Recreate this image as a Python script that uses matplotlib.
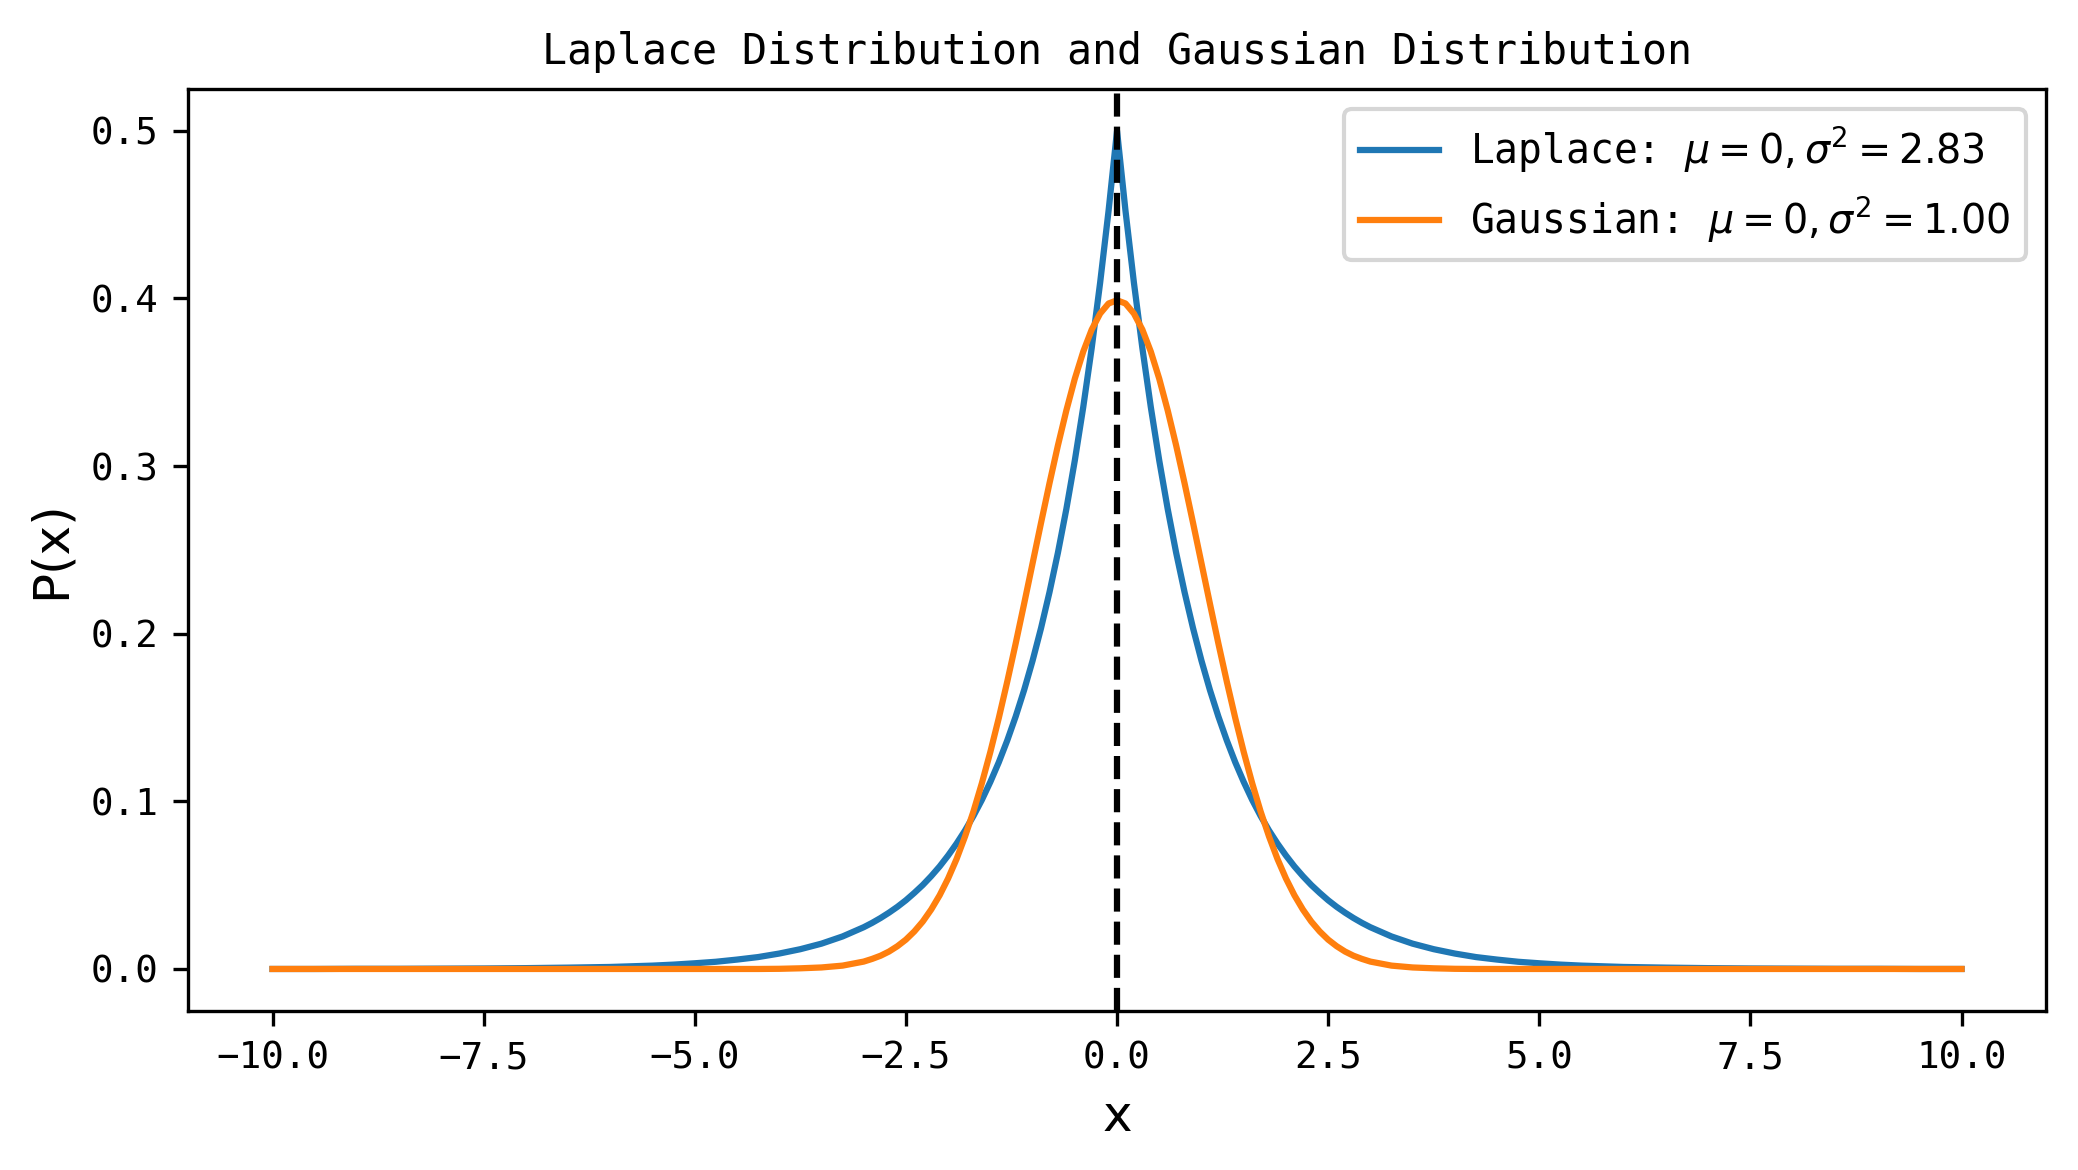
import matplotlib
matplotlib.use("Agg")
import matplotlib.pyplot as plt

# sample positions along x
x = [-10.0, -9.5, -9.0, -8.5, -8.0, -7.5, -7.0, -6.5,
     -6.0, -5.75, -5.5, -5.25, -5.0, -4.75, -4.5, -4.25, -4.0, -3.75, -3.5, -3.25,
     -3.0, -2.9, -2.8, -2.7, -2.6, -2.5, -2.4, -2.3, -2.2, -2.1,
     -2.0, -1.9, -1.8, -1.7, -1.6, -1.5, -1.4, -1.3, -1.2, -1.1,
     -1.0, -0.9, -0.8, -0.7, -0.6, -0.5, -0.4, -0.3, -0.2, -0.1,
     0.0,
     0.1, 0.2, 0.3, 0.4, 0.5, 0.6, 0.7, 0.8, 0.9, 1.0,
     1.1, 1.2, 1.3, 1.4, 1.5, 1.6, 1.7, 1.8, 1.9, 2.0,
     2.1, 2.2, 2.3, 2.4, 2.5, 2.6, 2.7, 2.8, 2.9, 3.0,
     3.25, 3.5, 3.75, 4.0, 4.25, 4.5, 4.75, 5.0, 5.25, 5.5, 5.75, 6.0,
     6.5, 7.0, 7.5, 8.0, 8.5, 9.0, 9.5, 10.0]

# density values
laplace = [0.0000, 0.0000, 0.0001, 0.0001, 0.0002, 0.0003, 0.0005, 0.0008,
           0.0012, 0.0016, 0.0020, 0.0026, 0.0034, 0.0043, 0.0056, 0.0071, 0.0092, 0.0118, 0.0151, 0.0194,
           0.0249, 0.0275, 0.0304, 0.0336, 0.0371, 0.0410, 0.0454, 0.0501, 0.0554, 0.0612,
           0.0677, 0.0748, 0.0826, 0.0913, 0.1009, 0.1116, 0.1233, 0.1363, 0.1506, 0.1664,
           0.1839, 0.2033, 0.2247, 0.2483, 0.2744, 0.3033, 0.3352, 0.3704, 0.4094, 0.4524,
           0.5000,
           0.4524, 0.4094, 0.3704, 0.3352, 0.3033, 0.2744, 0.2483, 0.2247, 0.2033, 0.1839,
           0.1664, 0.1506, 0.1363, 0.1233, 0.1116, 0.1009, 0.0913, 0.0826, 0.0748, 0.0677,
           0.0612, 0.0554, 0.0501, 0.0454, 0.0410, 0.0371, 0.0336, 0.0304, 0.0275, 0.0249,
           0.0194, 0.0151, 0.0118, 0.0092, 0.0071, 0.0056, 0.0043, 0.0034, 0.0026, 0.0020, 0.0016, 0.0012,
           0.0008, 0.0005, 0.0003, 0.0002, 0.0001, 0.0001, 0.0000, 0.0000]

gaussian = [0.0000, 0.0000, 0.0000, 0.0000, 0.0000, 0.0000, 0.0000, 0.0000,
            0.0000, 0.0000, 0.0000, 0.0000, 0.0000, 0.0000, 0.0000, 0.0000, 0.0001, 0.0004, 0.0009, 0.0020,
            0.0044, 0.0060, 0.0079, 0.0104, 0.0136, 0.0175, 0.0224, 0.0283, 0.0355, 0.0440,
            0.0540, 0.0656, 0.0790, 0.0940, 0.1109, 0.1295, 0.1497, 0.1714, 0.1942, 0.2179,
            0.2420, 0.2661, 0.2897, 0.3123, 0.3332, 0.3521, 0.3683, 0.3814, 0.3910, 0.3970,
            0.3989,
            0.3970, 0.3910, 0.3814, 0.3683, 0.3521, 0.3332, 0.3123, 0.2897, 0.2661, 0.2420,
            0.2179, 0.1942, 0.1714, 0.1497, 0.1295, 0.1109, 0.0940, 0.0790, 0.0656, 0.0540,
            0.0440, 0.0355, 0.0283, 0.0224, 0.0175, 0.0136, 0.0104, 0.0079, 0.0060, 0.0044,
            0.0020, 0.0009, 0.0004, 0.0001, 0.0000, 0.0000, 0.0000, 0.0000, 0.0000, 0.0000, 0.0000, 0.0000,
            0.0000, 0.0000, 0.0000, 0.0000, 0.0000, 0.0000, 0.0000, 0.0000]

labels = [r"Laplace: $\mu=0,\sigma^2=2.83$", r"Gaussian: $\mu=0,\sigma^2=1.00$"]
mean = 0.0

mono = "DejaVu Sans Mono"

fig = plt.figure(figsize=(2078/300, 1170/300), dpi=300)
ax = fig.add_subplot(1, 1, 1)
fig.subplots_adjust(left=0.0905, right=0.9846, bottom=0.136, top=0.924)

ax.plot(x, laplace, color="#1f77b4", lw=1.5, label=labels[0])
ax.plot(x, gaussian, color="#ff7f0e", lw=1.5, label=labels[1])
ax.axvline(mean, color="k", ls="--", lw=1.5)

ax.set_title("Laplace Distribution and Gaussian Distribution", fontsize=10, family=mono)
ax.set_xlabel("x", fontsize=12)
ax.set_ylabel("P(x)", fontsize=12)

for t in ax.get_xticklabels() + ax.get_yticklabels():
    t.set_family(mono)
    t.set_fontsize(9)

leg = ax.legend(loc="upper right", prop={"family": mono, "size": 9.5})

fig.savefig("out.png", dpi=300)
